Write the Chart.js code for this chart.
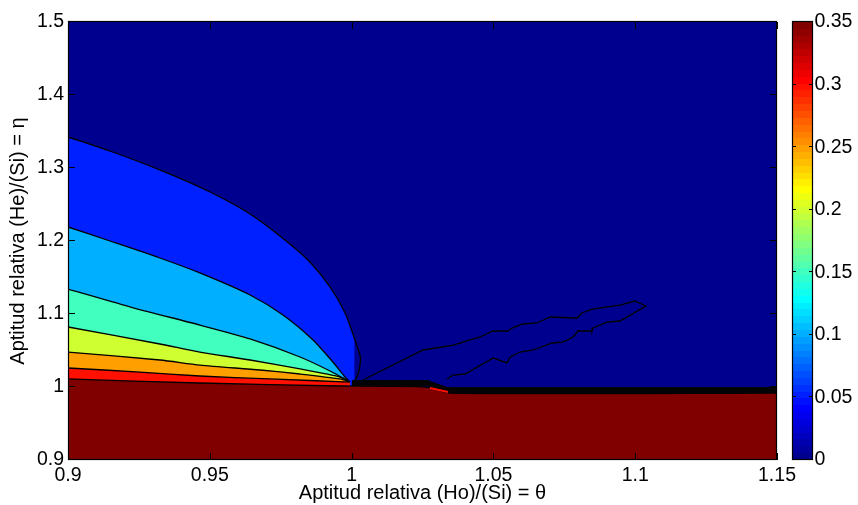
<!DOCTYPE html>
<html>
<head>
<meta charset="utf-8">
<script src="https://cdn.jsdelivr.net/npm/chart.js@4.4.0/dist/chart.umd.min.js"></script>
<style>
html,body{margin:0;padding:0;background:#fff;overflow:hidden}
#wrap{position:relative;width:858px;height:505px}
canvas{position:absolute;top:0}
</style>
</head>
<body>
<div id="wrap">
<canvas id="main" width="858" height="505" style="left:0px"></canvas>
<canvas id="cbar" width="118" height="505" style="left:740px"></canvas>
</div>
<script>
// ---------- axes / ticks ----------
const xTicks = [0.9, 0.95, 1, 1.05, 1.1, 1.15];
const xTickLabels = ['0.9', '0.95', '1', '1.05', '1.1', '1.15'];
const yTicks = [0.9, 1, 1.1, 1.2, 1.3, 1.4, 1.5];
const yTickLabels = ['0.9', '1', '1.1', '1.2', '1.3', '1.4', '1.5'];
const cbarTicks = [0, 0.05, 0.1, 0.15, 0.2, 0.25, 0.3, 0.35];
const cbarTickLabels = ['0', '0.05', '0.1', '0.15', '0.2', '0.25', '0.3', '0.35'];
const xTitle = 'Aptitud relativa (Ho)/(Si) = \u03B8';
const yTitle = 'Aptitud relativa (He)/(Si) = \u03B7';

// ---------- contour levels ----------
const levels = [0.05, 0.1, 0.15, 0.2, 0.25, 0.3, 0.35];

// contour lines (theta, eta)
const c05x = [0.9, 0.9148, 0.9324, 0.9501, 0.9642, 0.9765, 0.9853, 0.9924, 0.9977, 1.0012, 1.0031, 1.0028, 1.0019, 1.0010];
const c05y = [1.3425, 1.3233, 1.2973, 1.2671, 1.2370, 1.2014, 1.1712, 1.1370, 1.1014, 1.0644, 1.0411, 1.0260, 1.0137, 1.0075];

const c10x = [0.9, 0.9148, 0.9324, 0.9465, 0.9642, 0.9758, 0.9864, 0.9934, 0.9977, 0.9994];
const c10y = [1.2192, 1.2000, 1.1767, 1.1562, 1.1260, 1.0986, 1.0644, 1.0342, 1.0137, 1.0068];

const c15x = [0.9, 0.9233, 0.9465, 0.9642, 0.9818, 0.9924, 0.9994];
const c15y = [1.1342, 1.1082, 1.0849, 1.0658, 1.0411, 1.0219, 1.0068];

const c20x = [0.9, 0.9324, 0.9465, 0.9642, 0.9818, 0.9959, 0.9994];
const c20y = [1.0822, 1.0589, 1.0479, 1.0370, 1.0247, 1.0137, 1.0068];

const c25x = [0.9, 0.9324, 0.9465, 0.9677, 0.9818, 0.9959, 0.9994];
const c25y = [1.0479, 1.0370, 1.0301, 1.0233, 1.0178, 1.0110, 1.0068];

const c30x = [0.9, 0.9254, 0.9465, 0.9712, 0.9994];
const c30y = [1.0260, 1.0205, 1.0151, 1.0110, 1.0068];

const c35x = [0.9, 0.9465, 0.9959, 1.0259, 1.0347, 1.1500];
const c35y = [1.0110, 1.0055, 1.0014, 1.0000, 0.9918, 0.9918];

// thin closed contour in the low region
const loopX = [1.0040, 1.0252, 1.0358, 1.0453, 1.0499, 1.0551, 1.0566, 1.0604, 1.0654, 1.0700, 1.0795, 1.0812, 1.0848, 1.0946, 1.0999, 1.1038,
               1.0946, 1.0901, 1.0851, 1.0848, 1.0798, 1.0781, 1.0745, 1.0707, 1.0640, 1.0594, 1.0559, 1.0548, 1.0499, 1.0400, 1.0358, 1.0336];
const loopY = [1.0096, 1.0507, 1.0575, 1.0685, 1.0767, 1.0767, 1.0808, 1.0863, 1.0877, 1.0959, 1.0945, 1.1014, 1.1068, 1.1123, 1.1178, 1.1110,
               1.0904, 1.0890, 1.0808, 1.0767, 1.0767, 1.0685, 1.0616, 1.0603, 1.0507, 1.0479, 1.0411, 1.0329, 1.0397, 1.0178, 1.0164, 1.0110];

// dense contour band along the discontinuity
const bandX = [1.0001, 1.0266, 1.0336, 1.1500];
const bandY = [1.0055, 1.0055, 0.9959, 0.9959];
const stripeX = [1.0276, 1.0340];
const stripeY = [0.9986, 0.9932];

// ---------- colormap (MATLAB jet, 64 steps) ----------
const NC = 64;
function jet(i) {
  const x = (i + 1) / NC;
  const c = v => Math.round(255 * Math.max(0, Math.min(1, v)));
  return `rgb(${c(Math.min(4 * x - 1.5, -4 * x + 4.5))},${c(Math.min(4 * x - 0.5, -4 * x + 3.5))},${c(Math.min(4 * x + 0.5, -4 * x + 2.5))})`;
}
const cmax = cbarTicks[cbarTicks.length - 1];
const levelColor = L => jet(Math.round(L / cmax * (NC - 1)));
const bgColor = levelColor(0);

Chart.defaults.font.family = '"Liberation Sans", Arial, Helvetica, sans-serif';
Chart.defaults.color = '#000';
Chart.defaults.elements.point.radius = 0;
Chart.defaults.elements.point.hoverRadius = 0;

const pts = (xs, ys) => xs.map((x, i) => ({x: x, y: ys[i]}));

function region(xs, ys, level, order) {
  const data = pts(xs, ys);
  const maxX = Math.max(...xs);
  const closeIdx = xs[xs.length - 1] < maxX ? data.length : -1;
  if (closeIdx > 0) data.push({x: maxX, y: yTicks[0]});
  return {
    data: data,
    fill: 'start',
    backgroundColor: levelColor(level),
    borderColor: '#000',
    borderWidth: 1.3,
    tension: 0.25,
    clip: 0,
    order: order,
    segment: {
      borderColor: c => (c.p1DataIndex === closeIdx ? 'rgba(0,0,0,0)' : undefined)
    }
  };
}

const series = [c05x, c10x, c15x, c20x, c25x, c30x, c35x];
const seriesY = [c05y, c10y, c15y, c20y, c25y, c30y, c35y];
const datasets = [];
let ord = 20;
for (let k = 0; k < levels.length; k++) {
  datasets.push(region(series[k], seriesY[k], levels[k], ord--));
}
datasets.push({data: pts(loopX, loopY), borderColor: '#000', borderWidth: 1.3, tension: 0, fill: false, clip: 0, order: ord--});
datasets.push({data: pts(bandX, bandY), borderColor: '#040404', borderWidth: 6, tension: 0, fill: false, clip: 0, order: ord--});
datasets.push({data: pts(stripeX, stripeY), borderColor: '#ff1000', borderWidth: 2, tension: 0, fill: false, clip: 0, order: ord--});

const mainFrame = {
  id: 'mainFrame',
  beforeDatasetsDraw(chart) {
    const {ctx, chartArea: a} = chart;
    ctx.save();
    ctx.fillStyle = bgColor;
    ctx.fillRect(a.left, a.top, a.right - a.left, a.bottom - a.top);
    ctx.restore();
  },
  afterDatasetsDraw(chart) {
    const {ctx, chartArea: a} = chart;
    const xs = chart.scales.x, ys = chart.scales.y;
    const L = 7;
    ctx.save();
    ctx.strokeStyle = '#000';
    ctx.lineWidth = 1;
    ctx.beginPath();
    xTicks.forEach(v => {
      const p = Math.round(xs.getPixelForValue(v)) + 0.5;
      ctx.moveTo(p, a.bottom); ctx.lineTo(p, a.bottom - L);
      ctx.moveTo(p, a.top); ctx.lineTo(p, a.top + L);
    });
    yTicks.forEach(v => {
      const p = Math.round(ys.getPixelForValue(v)) - 0.5;
      ctx.moveTo(a.left, p); ctx.lineTo(a.left + L, p);
      ctx.moveTo(a.right, p); ctx.lineTo(a.right - L, p);
    });
    ctx.stroke();
    ctx.lineWidth = 1.2;
    ctx.strokeRect(a.left + 0.5, a.top - 0.5, a.right - a.left - 1, a.bottom - a.top);
    ctx.restore();
  }
};

new Chart(document.getElementById('main'), {
  type: 'line',
  data: {datasets: datasets},
  options: {
    responsive: false,
    animation: false,
    events: [],
    layout: {padding: {left: 0, right: 81, top: 22, bottom: 0}},
    scales: {
      x: {
        type: 'linear', position: 'bottom',
        min: xTicks[0], max: xTicks[xTicks.length - 1],
        afterBuildTicks: s => { s.ticks = xTicks.map(v => ({value: v})); },
        ticks: {callback: (v, i) => xTickLabels[i], font: {size: 19.5}, color: '#000', padding: 3.5, maxRotation: 0, autoSkip: false},
        grid: {display: false, drawTicks: false},
        border: {display: false},
        title: {display: true, text: xTitle, font: {size: 20}, color: '#000', padding: {top: 0, bottom: 0}},
        afterFit: s => { s.height = 45; }
      },
      y: {
        type: 'linear', position: 'left',
        min: yTicks[0], max: yTicks[yTicks.length - 1],
        afterBuildTicks: s => { s.ticks = yTicks.map(v => ({value: v})); },
        ticks: {callback: (v, i) => yTickLabels[i], font: {size: 19.5}, color: '#000', padding: 4, autoSkip: false},
        grid: {display: false, drawTicks: false},
        border: {display: false},
        title: {display: true, text: yTitle, font: {size: 20}, color: '#000', padding: {top: 6, bottom: 0}},
        afterFit: s => { s.width = 68; }
      }
    },
    plugins: {legend: {display: false}, tooltip: {enabled: false}}
  },
  plugins: [mainFrame]
});

// ---------- colorbar ----------
function jetGradient(c) {
  const chart = c.chart;
  const a = chart.chartArea;
  const ys = chart.scales && chart.scales.y;
  if (!a || !ys) return bgColor;
  const y0 = ys.getPixelForValue(cbarTicks[0]);
  const y1 = ys.getPixelForValue(cmax);
  if (!isFinite(y0) || !isFinite(y1) || y0 === y1) return bgColor;
  const g = chart.ctx.createLinearGradient(0, y0, 0, y1);
  for (let i = 0; i < NC; i++) {
    g.addColorStop(i / NC, jet(i));
    g.addColorStop((i + 1) / NC, jet(i));
  }
  return g;
}

const cbFrame = {
  id: 'cbFrame',
  afterDatasetsDraw(chart) {
    const {ctx, chartArea: a} = chart;
    const ys = chart.scales.y;
    const L = 4;
    ctx.save();
    ctx.strokeStyle = '#000';
    ctx.lineWidth = 1;
    ctx.beginPath();
    cbarTicks.forEach(v => {
      const p = Math.round(ys.getPixelForValue(v)) - 0.5;
      ctx.moveTo(a.left, p); ctx.lineTo(a.left + L, p);
      ctx.moveTo(a.right, p); ctx.lineTo(a.right - L, p);
    });
    ctx.stroke();
    ctx.lineWidth = 1.2;
    ctx.strokeRect(a.left + 0.5, a.top - 0.5, a.right - a.left - 1, a.bottom - a.top);
    ctx.restore();
  }
};

new Chart(document.getElementById('cbar'), {
  type: 'bar',
  data: {
    labels: [''],
    datasets: [{data: [cmax], backgroundColor: jetGradient, borderWidth: 0, barPercentage: 1, categoryPercentage: 1}]
  },
  options: {
    responsive: false,
    animation: false,
    events: [],
    layout: {padding: {left: 52, right: 0, top: 22, bottom: 45}},
    scales: {
      x: {display: false},
      y: {
        position: 'right',
        min: cbarTicks[0], max: cmax,
        afterBuildTicks: s => { s.ticks = cbarTicks.map(v => ({value: v})); },
        ticks: {callback: (v, i) => cbarTickLabels[i], font: {size: 19.5}, color: '#000', padding: 1.5, autoSkip: false},
        grid: {display: false, drawTicks: false},
        border: {display: false},
        afterFit: s => { s.width = 45; }
      }
    },
    plugins: {legend: {display: false}, tooltip: {enabled: false}}
  },
  plugins: [cbFrame]
});
</script>
</body>
</html>
